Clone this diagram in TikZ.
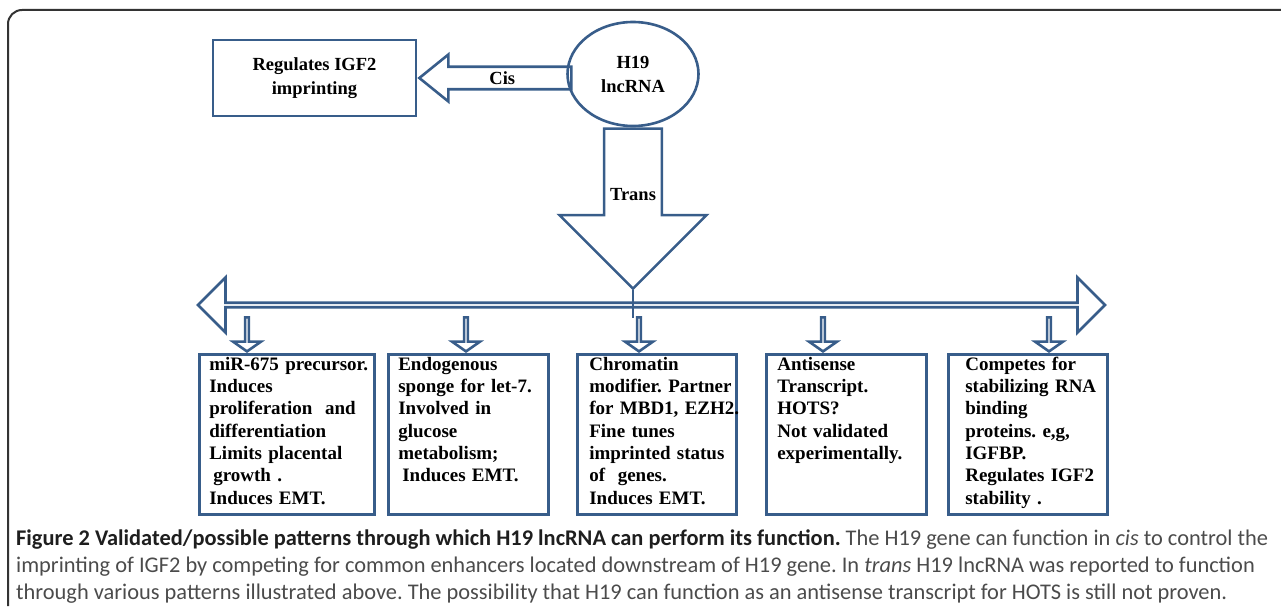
\documentclass[tikz,border=0pt]{standalone}
\usepackage{fontspec}
\setmainfont{Liberation Serif}
\newfontfamily\capfont{Carlito}
\usetikzlibrary{
    positioning,
    shapes.geometric,
    shapes.arrows
}

\begin{document}
\frenchspacing
\hyphenpenalty=10000
\exhyphenpenalty=10000
\hbadness=10000
\hfuzz=20pt
\begin{tikzpicture}[
    x=1pt, y=-1pt,
    font=\bfseries\fontsize{18.5}{24}\selectfont,
    box/.style={
    	draw=my-blue, line width=2.6pt, align=left, anchor=north west,
    	inner xsep=10pt, inner ysep=3pt, text height=13pt, text depth=141pt,
    	font=\bfseries\fontsize{19}{22.3}\selectfont
    }, blk/.style={
    	draw=my-blue, line width=2.6pt, inner sep=0pt
    }, sarr/.style={
    	blk, single arrow, shape border rotate=270, anchor=tip,
    	minimum height=34pt, minimum width=28pt,
    	single arrow head extend=8.5pt, single arrow tip angle=110
    }, frame/.style={
    	draw=black!80, line width=2pt, rounded corners=14pt
    }]
    \definecolor{my-blue}{RGB}{56, 93, 138}
    \definecolor{cap-dark}{RGB}{30, 30, 30}
    \definecolor{cap-gray}{RGB}{75, 75, 75}

    \useasboundingbox (0,0) rectangle (1281,610);
    \draw[frame] (1281,10) -- (8,10) -- (8,606);

    \node[blk, ellipse, minimum width=131pt, minimum height=104pt, align=center] (lnc) at (633,74) {H19\\lncRNA};
    \node[blk, minimum width=203pt, minimum height=76pt, align=center] (imprint) at (314.5,78) {Regulates IGF2\\imprinting};

    \node[blk, single arrow, shape border rotate=180, anchor=tip,
    	minimum height=152pt, minimum width=47pt,
    	single arrow head extend=8.5pt, single arrow tip angle=78] (cis) at (imprint.east) {Cis};
    \node[blk, single arrow, shape border rotate=270, anchor=tail,
    	minimum height=160pt, minimum width=147pt,
    	single arrow head extend=37.5pt] (trans) at (lnc.south) {Trans};

    \node[blk, double arrow, minimum height=907pt, minimum width=55pt,
    	double arrow head extend=14.5pt] (spread) at (651.5,305) {};
    \coordinate (shaftlow) at (0,318);
    \draw[my-blue, line width=2.6pt] (trans.tip) -- (trans.tip |- shaftlow);


    \node[box, text width=155pt] (mir) at (198,353) {miR-675~precursor.\\Induces\\proliferation~\ and\\differentiation\\Limits~placental\\\hspace*{4pt}growth~.\\Induces~EMT.};
    \node[box, text width=140pt] (sponge) at (387,353) {Endogenous\\sponge~for~let-7.\\Involved~in\\glucose\\metabolism;\\\hspace*{4pt}Induces~EMT.};
    \node[box, inner xsep=12pt, text width=135pt] (chrom) at (576,353) {Chromatin\\modifier.~Partner\\for~MBD1,~EZH2.\\Fine~tunes\\imprinted~status\\of~\ genes.\\Induces~EMT.};
    \node[box, inner xsep=11pt, text width=138pt] (anti) at (765,353) {Antisense\\Transcript.\\HOTS?\\Not~validated\\experimentally.};
    \node[box, inner xsep=17pt, text width=125pt] (rbp) at (947,353) {Competes~for\\stabilizing~RNA\\binding\\proteins.~e,g,\\IGFBP.\\Regulates~IGF2\\stability~.};

    \node[sarr] (to-mir) at (247,353) {};
    \node[sarr] (to-sponge) at (466,353) {};
    \node[sarr] (to-chrom) at (639,353) {};
    \node[sarr] (to-anti) at (823,353) {};
    \node[sarr] (to-rbp) at (1049,353) {};

    \node[anchor=north west, align=left, inner sep=0pt, text=cap-gray,
    	font=\capfont\fontsize{22.4}{27}\selectfont] (caption) at (16,530) {{\bfseries\color{cap-dark}Figure 2 Validated/possible patterns through which H19 lncRNA can perform its function.} The H19 gene can function in \textit{cis} to control the\\imprinting of IGF2 by competing for common enhancers located downstream of H19 gene. In \textit{trans} H19 lncRNA was reported to function\\through various patterns illustrated above. The possibility that H19 can function as an antisense transcript for HOTS is still not proven.};

\end{tikzpicture}
\end{document}
